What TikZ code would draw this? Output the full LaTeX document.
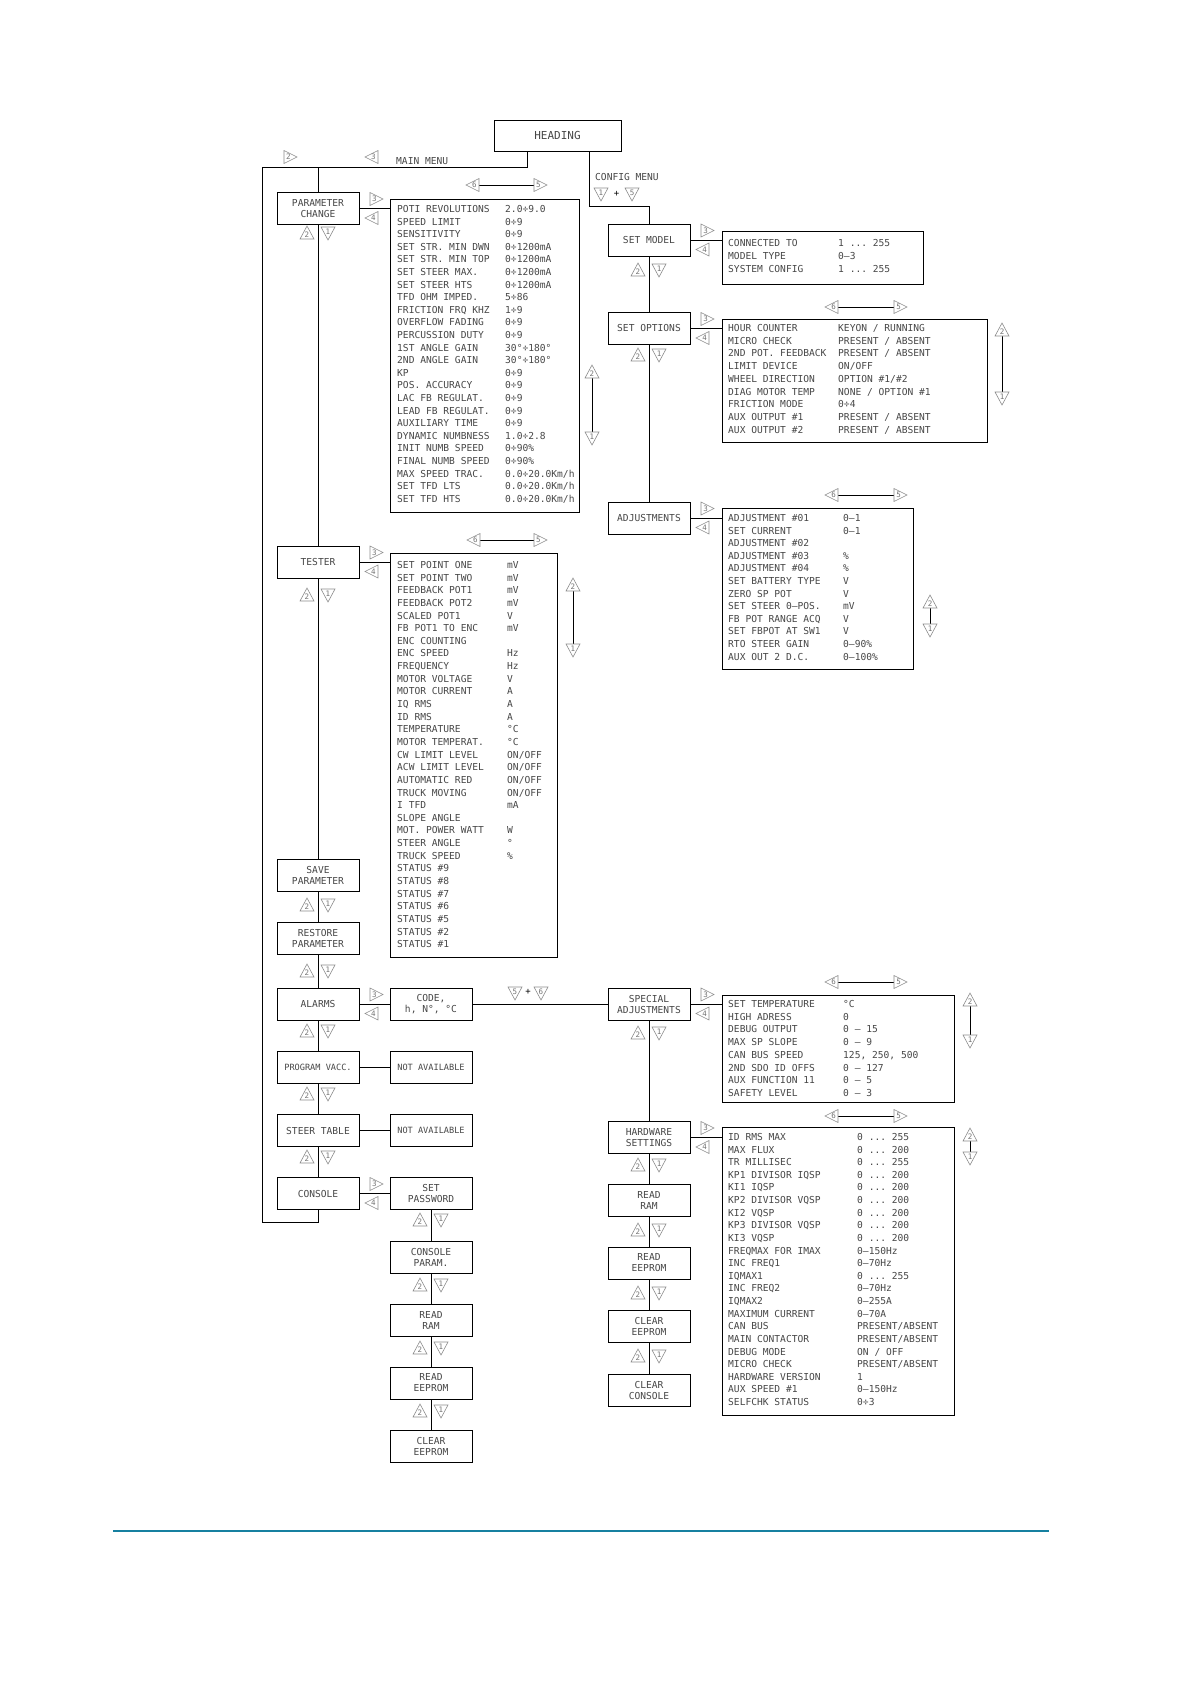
\documentclass[tikz,border=0pt]{standalone}
\usepackage{fontspec}
\setmonofont{DejaVu Sans Mono}
\definecolor{teal1}{RGB}{22,128,160}
\newcommand{\mytbl}[5]{\def\tblname{#1}\def\tblxa{#2}\def\tblxb{#3}\def\tbly{#4}\def\tblstep{#5}\def\tbln{0}}
\newcommand{\myrw}[2]{%
  \pgfmathtruncatemacro\tbln{\tbln+1}%
  \node[cell] (\tblname-a\tbln) at (\tblxa,\tbly+3.5) {#1};%
  \node[cell] (\tblname-b\tbln) at (\tblxb,\tbly+3.5) {#2};%
  \pgfmathsetmacro\tbly{\tbly+\tblstep}}
\newcommand{\vud}[3]{%
  \draw[thinln] (#1,#2+12) -- (#1,#3-12);
  \pic at (#1,#2+7) {triU=2};
  \pic at (#1,#3-7) {triD=1};}
\newcommand{\hlr}[3]{%
  \draw[thinln] (#1+6,#3) -- (#2-6,#3);
  \pic at (#1,#3) {triL=6};
  \pic at (#2,#3) {triR=5};}
\newcommand{\sidepair}[2]{%
  \pic at (#1+17,#2-9.5) {triR=3};
  \pic at (#1+13,#2+9.5) {triL=4};}
\newcommand{\vpair}[2]{%
  \pic at (#1-11,#2) {triU=2};
  \pic at (#1+10,#2) {triD=1};}
\begin{document}
\begin{tikzpicture}[x=1pt,y=-1pt,
  lbl/.style={font=\ttfamily\fontsize{9.6}{11}\selectfont, text=black!72},
  box/.style={draw, line width=1pt, minimum width=82pt, minimum height=32pt, align=center, inner sep=0pt, lbl},
  smallbox/.style={box, font=\ttfamily\fontsize{8.6}{11}\selectfont},
  tab/.style={draw, line width=1pt, inner sep=0pt},
  cell/.style={lbl, anchor=base west, inner sep=0pt},
  conn/.style={line width=1pt},
  thinln/.style={line width=0.9pt},
  tri/.style={draw=black!45, line width=0.6pt, fill=white},
  trinum/.style={font=\ttfamily\fontsize{7.5}{7.5}\selectfont, text=black!55, inner sep=0pt},
  pics/triR/.style={code={\draw[tri] (-6,-6.5) -- (7,0) -- (-6,6.5) -- cycle; \node[trinum] at (-1.5,0) {#1};}},
  pics/triL/.style={code={\draw[tri] (6,-6.5) -- (-7,0) -- (6,6.5) -- cycle; \node[trinum] at (1.5,0) {#1};}},
  pics/triU/.style={code={\draw[tri] (-7,6) -- (0,-7) -- (7,6) -- cycle; \node[trinum] at (0,1.5) {#1};}},
  pics/triD/.style={code={\draw[tri] (-7,-6) -- (0,7) -- (7,-6) -- cycle; \node[trinum] at (0,-1.5) {#1};}}
]
\fill[white] (0,0) rectangle (1190,1684);
\useasboundingbox (0,0) rectangle (1190,1684);

% heading
\node[box, minimum width=127pt, minimum height=31pt, font=\ttfamily\fontsize{11}{12}\selectfont] (head) at (557.5,135.5) {HEADING};

% left column boxes
\node[box] (pc) at (318,208.5) {PARAMETER\\CHANGE};
\node[box] (tester) at (318,562) {TESTER};
\node[box] (save) at (318,875) {SAVE\\PARAMETER};
\node[box] (restore) at (318,938) {RESTORE\\PARAMETER};
\node[box] (alarms) at (318,1004) {ALARMS};
\node[smallbox] (prog) at (318,1067.5) {PROGRAM VACC.};
\node[box] (steer) at (318,1130.5) {STEER TABLE};
\node[box] (console) at (318,1193.5) {CONSOLE};

% second column boxes
\node[box] (code) at (431,1004) {CODE,\\h,\ N°,\ °C};
\node[smallbox] (na1) at (431,1067.5) {NOT AVAILABLE};
\node[smallbox] (na2) at (431,1130.5) {NOT AVAILABLE};
\node[box] (setpw) at (431,1193.5) {SET\\PASSWORD};
\node[box] (cparam) at (431,1257) {CONSOLE\\PARAM.};
\node[box] (rram) at (431,1320) {READ\\RAM};
\node[box] (reep) at (431,1383) {READ\\EEPROM};
\node[box] (ceep) at (431,1446.5) {CLEAR\\EEPROM};

% right column boxes
\node[box] (smodel) at (649,240) {SET MODEL};
\node[box] (sopt) at (649,328.5) {SET OPTIONS};
\node[box] (adj) at (649,518) {ADJUSTMENTS};
\node[box] (spec) at (649,1004) {SPECIAL\\ADJUSTMENTS};
\node[box] (hw) at (649,1137.5) {HARDWARE\\SETTINGS};
\node[box] (rram2) at (649,1200) {READ\\RAM};
\node[box] (reep2) at (649,1263) {READ\\EEPROM};
\node[box] (ceep2) at (649,1326) {CLEAR\\EEPROM};
\node[box] (ccons) at (649,1390) {CLEAR\\CONSOLE};

% tables
\node[tab, minimum width=189pt, minimum height=313pt] (pctab) at (484.5,355.5) {};
\node[tab, minimum width=201pt, minimum height=53pt] (smtab) at (822.5,257.5) {};
\node[tab, minimum width=265pt, minimum height=123pt] (sotab) at (854.5,380.5) {};
\node[tab, minimum width=191pt, minimum height=161pt] (adjtab) at (817.5,588.5) {};
\node[tab, minimum width=167pt, minimum height=404pt] (testab) at (473.5,755) {};
\node[tab, minimum width=232pt, minimum height=107pt] (spectab) at (838,1048.5) {};
\node[tab, minimum width=232pt, minimum height=288pt] (hwtab) at (838,1271) {};

% main menu lines
\coordinate (mmR) at (527,167);
\coordinate (mmL) at (262,167);
\coordinate (lp) at (262,1222);
\draw[conn] (head.south -| mmR) -- (mmR) -- (mmL) -- (lp) -- (lp -| console.south) -- (console.south);
\draw[conn] (pc.north |- mmR) -- (pc.north);
\node[lbl, anchor=base west, inner sep=0pt] (mmtext) at (396,164.5) {MAIN MENU};
\pic at (290,157) {triR=2};
\pic at (372,157) {triL=3};

% config menu
\coordinate (cfg) at (589,206);
\draw[conn] (head.south -| cfg) -- (cfg) -- (cfg -| smodel.north) -- (smodel.north);
\node[lbl, anchor=base west, inner sep=0pt] (cfgtext) at (595,180.5) {CONFIG MENU};
\pic at (601,194) {triD=1};
\node[trinum, text=black, font=\ttfamily\fontsize{9}{9}\selectfont] (plus1) at (616.5,194) {+};
\pic at (632,194) {triD=5};

% left column connectors
\draw[conn] (pc.south) -- (tester.north);
\draw[conn] (tester.south) -- (save.north);
\draw[conn] (save.south) -- (restore.north);
\draw[conn] (restore.south) -- (alarms.north);
\draw[conn] (alarms.south) -- (prog.north);
\draw[conn] (prog.south) -- (steer.north);
\draw[conn] (steer.south) -- (console.north);
\vpair{318}{233}
\vpair{318}{595}
\vpair{318}{905}
\vpair{318}{971}
\vpair{318}{1031}
\vpair{318}{1094}
\vpair{318}{1157}

% horizontal connectors left
\draw[conn] (pc.east) -- (pc.east -| pctab.west);
\draw[conn] (tester.east) -- (tester.east -| testab.west);
\draw[conn] (alarms.east) -- (code.west);
\draw[conn] (prog.east) -- (na1.west);
\draw[conn] (steer.east) -- (na2.west);
\draw[conn] (console.east) -- (setpw.west);
\draw[conn] (code.east) -- (spec.west);
\sidepair{359}{208.5}
\sidepair{359}{562}
\sidepair{359}{1004}
\sidepair{359}{1193.5}
\pic at (515,993) {triD=5};
\node[trinum, text=black, font=\ttfamily\fontsize{9}{9}\selectfont] (plus2) at (528,992) {+};
\pic at (541,993) {triD=6};

% second column connectors
\draw[conn] (setpw.south) -- (cparam.north);
\draw[conn] (cparam.south) -- (rram.north);
\draw[conn] (rram.south) -- (reep.north);
\draw[conn] (reep.south) -- (ceep.north);
\vpair{431}{1220}
\vpair{431}{1285}
\vpair{431}{1348}
\vpair{431}{1411}

% right column connectors
\draw[conn] (smodel.south) -- (sopt.north);
\draw[conn] (sopt.south) -- (adj.north);
\draw[conn] (spec.south) -- (hw.north);
\draw[conn] (hw.south) -- (rram2.north);
\draw[conn] (rram2.south) -- (reep2.north);
\draw[conn] (reep2.south) -- (ceep2.north);
\draw[conn] (ceep2.south) -- (ccons.north);
\vpair{649}{270}
\vpair{649}{355}
\vpair{649}{1033}
\vpair{649}{1165}
\vpair{649}{1230}
\vpair{649}{1293}
\vpair{649}{1356}

\draw[conn] (smodel.east) -- (smodel.east -| smtab.west);
\draw[conn] (sopt.east) -- (sopt.east -| sotab.west);
\draw[conn] (adj.east) -- (adj.east -| adjtab.west);
\draw[conn] (spec.east) -- (spec.east -| spectab.west);
\draw[conn] (hw.east) -- (hw.east -| hwtab.west);
\sidepair{690}{240}
\sidepair{690}{328.5}
\sidepair{690}{518}
\sidepair{690}{1004}
\sidepair{690}{1137.5}

% left-right arrows
\hlr{473}{540}{185}
\hlr{474}{540}{540}
\hlr{832}{900}{307}
\hlr{832}{900}{495}
\hlr{832}{900}{982}
\hlr{832}{900}{1116}

% up-down arrows
\vud{592}{365}{445}
\vud{1002}{323}{405}
\vud{573}{578}{657}
\vud{930}{595}{637}
\vud{970}{993}{1048}
\vud{970}{1128}{1165}

% table texts
\mytbl{pct}{397}{505}{209}{12.6}
\myrw{POTI REVOLUTIONS}{2.0÷9.0}
\myrw{SPEED LIMIT}{0÷9}
\myrw{SENSITIVITY}{0÷9}
\myrw{SET STR. MIN DWN}{0÷1200mA}
\myrw{SET STR. MIN TOP}{0÷1200mA}
\myrw{SET STEER MAX.}{0÷1200mA}
\myrw{SET STEER HTS}{0÷1200mA}
\myrw{TFD OHM IMPED.}{5÷86}
\myrw{FRICTION FRQ KHZ}{1÷9}
\myrw{OVERFLOW FADING}{0÷9}
\myrw{PERCUSSION DUTY}{0÷9}
\myrw{1ST ANGLE GAIN}{30°÷180°}
\myrw{2ND ANGLE GAIN}{30°÷180°}
\myrw{KP}{0÷9}
\myrw{POS. ACCURACY}{0÷9}
\myrw{LAC FB REGULAT.}{0÷9}
\myrw{LEAD FB REGULAT.}{0÷9}
\myrw{AUXILIARY TIME}{0÷9}
\myrw{DYNAMIC NUMBNESS}{1.0÷2.8}
\myrw{INIT NUMB SPEED}{0÷90\%}
\myrw{FINAL NUMB SPEED}{0÷90\%}
\myrw{MAX SPEED TRAC.}{0.0÷20.0Km/h}
\myrw{SET TFD LTS}{0.0÷20.0Km/h}
\myrw{SET TFD HTS}{0.0÷20.0Km/h}

\mytbl{smt}{728}{838}{243}{13}
\myrw{CONNECTED TO}{1 ... 255}
\myrw{MODEL TYPE}{0–3}
\myrw{SYSTEM CONFIG}{1 ... 255}

\mytbl{sot}{728}{838}{328}{12.7}
\myrw{HOUR COUNTER}{KEYON / RUNNING}
\myrw{MICRO CHECK}{PRESENT / ABSENT}
\myrw{2ND POT. FEEDBACK}{PRESENT / ABSENT}
\myrw{LIMIT DEVICE}{ON/OFF}
\myrw{WHEEL DIRECTION}{OPTION \#1/\#2}
\myrw{DIAG MOTOR TEMP}{NONE / OPTION \#1}
\myrw{FRICTION MODE}{0÷4}
\myrw{AUX OUTPUT \#1}{PRESENT / ABSENT}
\myrw{AUX OUTPUT \#2}{PRESENT / ABSENT}

\mytbl{adt}{728}{843}{518}{12.6}
\myrw{ADJUSTMENT \#01}{0–1}
\myrw{SET CURRENT}{0–1}
\myrw{ADJUSTMENT \#02}{}
\myrw{ADJUSTMENT \#03}{\%}
\myrw{ADJUSTMENT \#04}{\%}
\myrw{SET BATTERY TYPE}{V}
\myrw{ZERO SP POT}{V}
\myrw{SET STEER 0–POS.}{mV}
\myrw{FB POT RANGE ACQ}{V}
\myrw{SET FBPOT AT SW1}{V}
\myrw{RTO STEER GAIN}{0–90\%}
\myrw{AUX OUT 2 D.C.}{0–100\%}

\mytbl{tst}{397}{507}{565}{12.64}
\myrw{SET POINT ONE}{mV}
\myrw{SET POINT TWO}{mV}
\myrw{FEEDBACK POT1}{mV}
\myrw{FEEDBACK POT2}{mV}
\myrw{SCALED POT1}{V}
\myrw{FB POT1 TO ENC}{mV}
\myrw{ENC COUNTING}{}
\myrw{ENC SPEED}{Hz}
\myrw{FREQUENCY}{Hz}
\myrw{MOTOR VOLTAGE}{V}
\myrw{MOTOR CURRENT}{A}
\myrw{IQ RMS}{A}
\myrw{ID RMS}{A}
\myrw{TEMPERATURE}{°C}
\myrw{MOTOR TEMPERAT.}{°C}
\myrw{CW LIMIT LEVEL}{ON/OFF}
\myrw{ACW LIMIT LEVEL}{ON/OFF}
\myrw{AUTOMATIC RED}{ON/OFF}
\myrw{TRUCK MOVING}{ON/OFF}
\myrw{I TFD}{mA}
\myrw{SLOPE ANGLE}{}
\myrw{MOT. POWER WATT}{W}
\myrw{STEER ANGLE}{°}
\myrw{TRUCK SPEED}{\%}
\myrw{STATUS \#9}{}
\myrw{STATUS \#8}{}
\myrw{STATUS \#7}{}
\myrw{STATUS \#6}{}
\myrw{STATUS \#5}{}
\myrw{STATUS \#2}{}
\myrw{STATUS \#1}{}

\mytbl{spt}{728}{843}{1004}{12.7}
\myrw{SET TEMPERATURE}{°C}
\myrw{HIGH ADRESS}{0}
\myrw{DEBUG OUTPUT}{0 – 15}
\myrw{MAX SP SLOPE}{0 – 9}
\myrw{CAN BUS SPEED}{125, 250, 500}
\myrw{2ND SDO ID OFFS}{0 – 127}
\myrw{AUX FUNCTION 11}{0 – 5}
\myrw{SAFETY LEVEL}{0 – 3}

\mytbl{hwt}{728}{857}{1137}{12.62}
\myrw{ID RMS MAX}{0 ... 255}
\myrw{MAX FLUX}{0 ... 200}
\myrw{TR MILLISEC}{0 ... 255}
\myrw{KP1 DIVISOR IQSP}{0 ... 200}
\myrw{KI1 IQSP}{0 ... 200}
\myrw{KP2 DIVISOR VQSP}{0 ... 200}
\myrw{KI2 VQSP}{0 ... 200}
\myrw{KP3 DIVISOR VQSP}{0 ... 200}
\myrw{KI3 VQSP}{0 ... 200}
\myrw{FREQMAX FOR IMAX}{0–150Hz}
\myrw{INC FREQ1}{0–70Hz}
\myrw{IQMAX1}{0 ... 255}
\myrw{INC FREQ2}{0–70Hz}
\myrw{IQMAX2}{0–255A}
\myrw{MAXIMUM CURRENT}{0–70A}
\myrw{CAN BUS}{PRESENT/ABSENT}
\myrw{MAIN CONTACTOR}{PRESENT/ABSENT}
\myrw{DEBUG MODE}{ON / OFF}
\myrw{MICRO CHECK}{PRESENT/ABSENT}
\myrw{HARDWARE VERSION}{1}
\myrw{AUX SPEED \#1}{0–150Hz}
\myrw{SELFCHK STATUS}{0÷3}

% footer rule
\coordinate (fl) at (113,1531);
\coordinate (fr) at (1049,1531);
\draw[teal1, line width=2pt] (fl) -- (fr);
\end{tikzpicture}
\end{document}
